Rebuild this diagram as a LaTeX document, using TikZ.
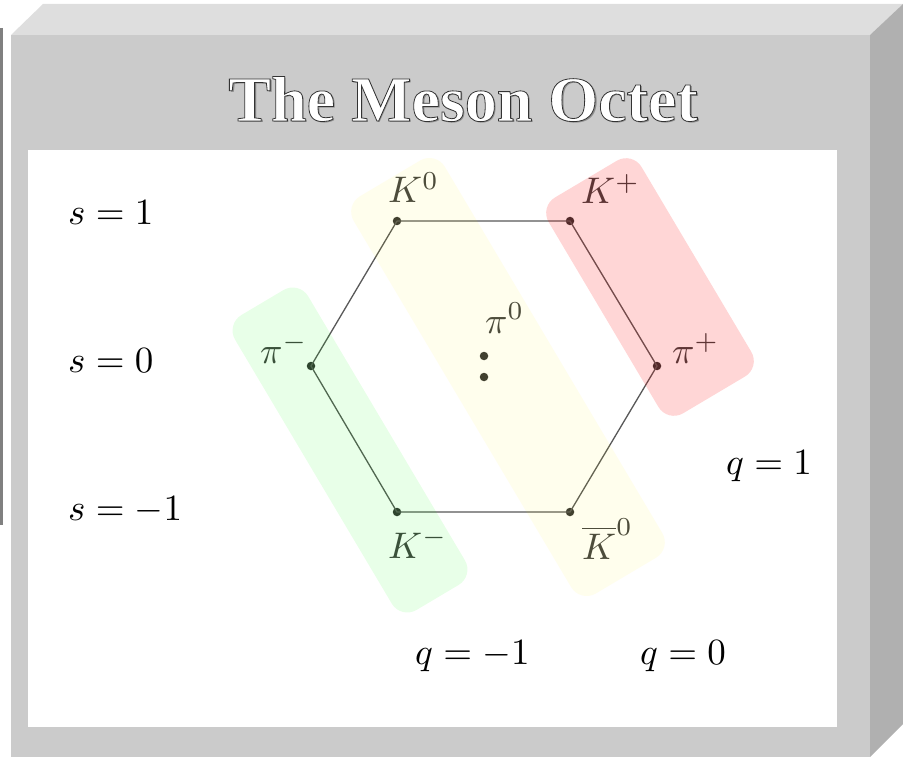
\documentclass[tikz,border=0pt]{standalone}
\usepackage{graphicx}
\usepackage{fontspec}
\newfontfamily\titlefont{Liberation Serif}
\usetikzlibrary{calc}
\definecolor{topface}{HTML}{DEDEDE}
\definecolor{frontface}{HTML}{CBCBCB}
\definecolor{sideface}{HTML}{B0B0B0}
\definecolor{leftline}{HTML}{808080}
\newcommand{\mylabmath}[1]{\scalebox{3.7}{$#1$}}
\newcommand{\outlinedtext}[1]{\special{pdf:literal 2 Tr 0.2 G 0.8 w}#1\special{pdf:literal 0 Tr}}
\tikzset{
  lab/.style={inner sep=0pt, anchor=base west},
  hexlab/.style={lab, text=black!75},
  hexdot/.style={circle, fill=black!80, inner sep=0pt, minimum size=8.5pt},
  hexedge/.style={draw=black!65, line width=1.3pt},
  band/.style={draw=none, rounded corners=18pt, rotate=-59.3, inner sep=0pt},
  titletxt/.style={inner sep=0pt, anchor=base, font=\fontsize{64}{70}\titlefont\bfseries}
}
\begin{document}
\begin{tikzpicture}[x=1pt,y=-1pt]
\useasboundingbox (0,0) rectangle (903,757);
% thin line at the left edge
\draw[leftline, line width=2.5pt] (1.5,28) -- (1.5,525);
% 3D box
\fill[topface] (11,35) -- (43,4) -- (903,4) -- (870,35) -- cycle;
\fill[sideface] (870,35) -- (903,4) -- (903,724) -- (870,757) -- cycle;
\fill[frontface] (11,35) rectangle (870,757);
\fill[white] (28,150) rectangle (837,727);
% title
\coordinate (tpos) at (463,121);
\node[titletxt, text=black!45] (tshadow) at ($(tpos)+(1.8,1.8)$) {The Meson Octet};
\node[titletxt, text=white] (title) at (tpos) {\outlinedtext{The Meson Octet}};
% hexagon vertices
\node[hexdot] (K0) at (397,221) {};
\node[hexdot] (Kp) at (570,221) {};
\node[hexdot] (pip) at (657,366) {};
\node[hexdot] (Kb) at (570,512) {};
\node[hexdot] (Km) at (397,512) {};
\node[hexdot] (pim) at (311,366) {};
\node[hexdot] (c1) at (484,356) {};
\node[hexdot] (c2) at (484,377) {};
\draw[hexedge] (K0.center) -- (Kp.center) -- (pip.center) -- (Kb.center) -- (Km.center) -- (pim.center) -- (K0.center);
% hexagon labels
\node[hexlab] (lK0) at (388,203) {\mylabmath{K^0}};
\node[hexlab] (lKp) at (581,204) {\mylabmath{K^+}};
\node[hexlab] (lpi0) at (485,333) {\mylabmath{\pi^0}};
\node[hexlab] (lpim) at (260,363) {\mylabmath{\pi^-}};
\node[hexlab] (lpip) at (672,363) {\mylabmath{\pi^+}};
\node[hexlab] (lKm) at (388,558) {\mylabmath{K^-}};
\node[hexlab] (lKb) at (582,559) {\mylabmath{\overline{K}^0}};
% axis labels
\node[lab] (s1) at (68,225) {\mylabmath{s=1}};
\node[lab] (s0) at (68,372) {\mylabmath{s=0}};
\node[lab] (sm1) at (68,520) {\mylabmath{s=-1}};
\node[lab] (q1) at (726,474) {\mylabmath{q=1}};
\node[lab] (q0) at (640,664) {\mylabmath{q=0}};
\node[lab] (qm1) at (415,664) {\mylabmath{q=-1}};
% translucent bands
\node[band, fill=green, fill opacity=0.09, minimum width=343pt, minimum height=85pt] (gband) at (350,450) {};
\node[band, fill=yellow, fill opacity=0.07, minimum width=462pt, minimum height=106pt] (yband) at (508,377) {};
\node[band, fill=red, fill opacity=0.16, minimum width=251pt, minimum height=108pt] (rband) at (650,287) {};
\end{tikzpicture}
\end{document}
